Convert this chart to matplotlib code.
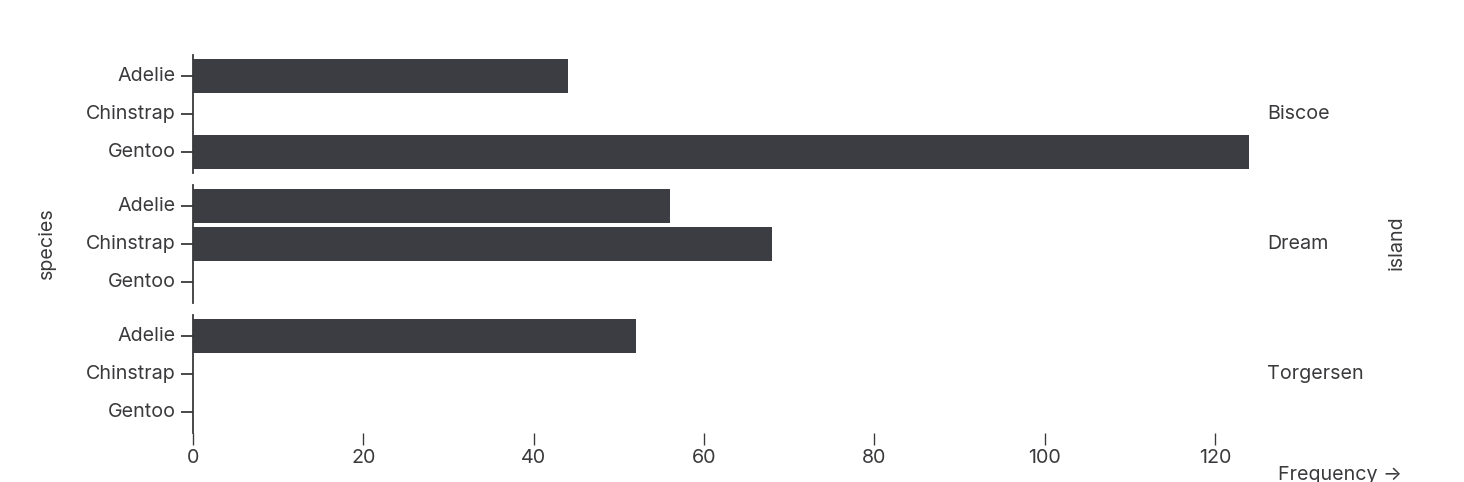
import matplotlib
matplotlib.use("Agg")
import matplotlib.pyplot as plt

plt.rcParams['font.family'] = ['Inter', 'DejaVu Sans']

islands = ["Biscoe", "Dream", "Torgersen"]
species = ["Adelie", "Chinstrap", "Gentoo"]
counts = {
    "Biscoe": [44, 0, 124],
    "Dream": [56, 68, 0],
    "Torgersen": [52, 0, 0],
}
x_ticks = [0, 20, 40, 60, 80, 100, 120]
x_max = 124

W, H = 1464, 482
DPI = 100
fig = plt.figure(figsize=(W / DPI, H / DPI), dpi=DPI)

BAR = "#3c3d43"
TXT = "#3a3a3d"
FS = 14.2
LW = 1.3

left_px, right_px = 193, 1249
panel_tops = [55.2, 185.2, 315.2]
panel_h = 117.8

def px_rect(x0, y0, x1, y1):
    return [x0 / W, 1 - y1 / H, (x1 - x0) / W, (y1 - y0) / H]

for i, isl in enumerate(islands):
    top = panel_tops[i]
    ax = fig.add_axes(px_rect(left_px, top, right_px, top + panel_h))
    vals = counts[isl]
    ypos = list(range(len(species)))
    ax.barh(ypos, vals, height=0.9, color=BAR, edgecolor="none")
    ax.set_ylim(2.55, -0.55)
    ax.set_xlim(0, x_max)
    ax.set_yticks(ypos)
    ax.set_yticklabels(species, fontsize=FS, color=TXT)
    for lbl in ax.get_yticklabels():
        lbl.set_verticalalignment("center")
    ax.tick_params(axis="y", length=8.6, width=LW, color=TXT, pad=4)
    for s in ["top", "right", "bottom"]:
        ax.spines[s].set_visible(False)
    ax.spines["left"].set_color(TXT)
    ax.spines["left"].set_linewidth(LW)
    if i == len(islands) - 1:
        ax.set_xticks(x_ticks)
        ax.set_xticklabels([str(t) for t in x_ticks], fontsize=FS, color=TXT)
        ax.tick_params(axis="x", length=8.6, width=LW * 0.75, color=TXT, pad=3)
    else:
        ax.set_xticks([])
    # facet label
    fig.text(1267 / W, 1 - (top + panel_h / 2) / H, isl, fontsize=FS, color=TXT,
             ha="left", va="center")

fig.text(47 / W, 1 - 243 / H, "species", fontsize=FS, color=TXT,
         rotation=90, ha="center", va="center")
fig.text(1397 / W, 1 - 243 / H, "island", fontsize=FS, color=TXT,
         rotation=90, ha="center", va="center")
fig.text(1278 / W, 1 - 466 / H, "Frequency →", fontsize=FS, color=TXT,
         ha="left", va="top", family=['Inter', 'DejaVu Sans'])

fig.savefig("out.png", dpi=DPI, facecolor="white")
